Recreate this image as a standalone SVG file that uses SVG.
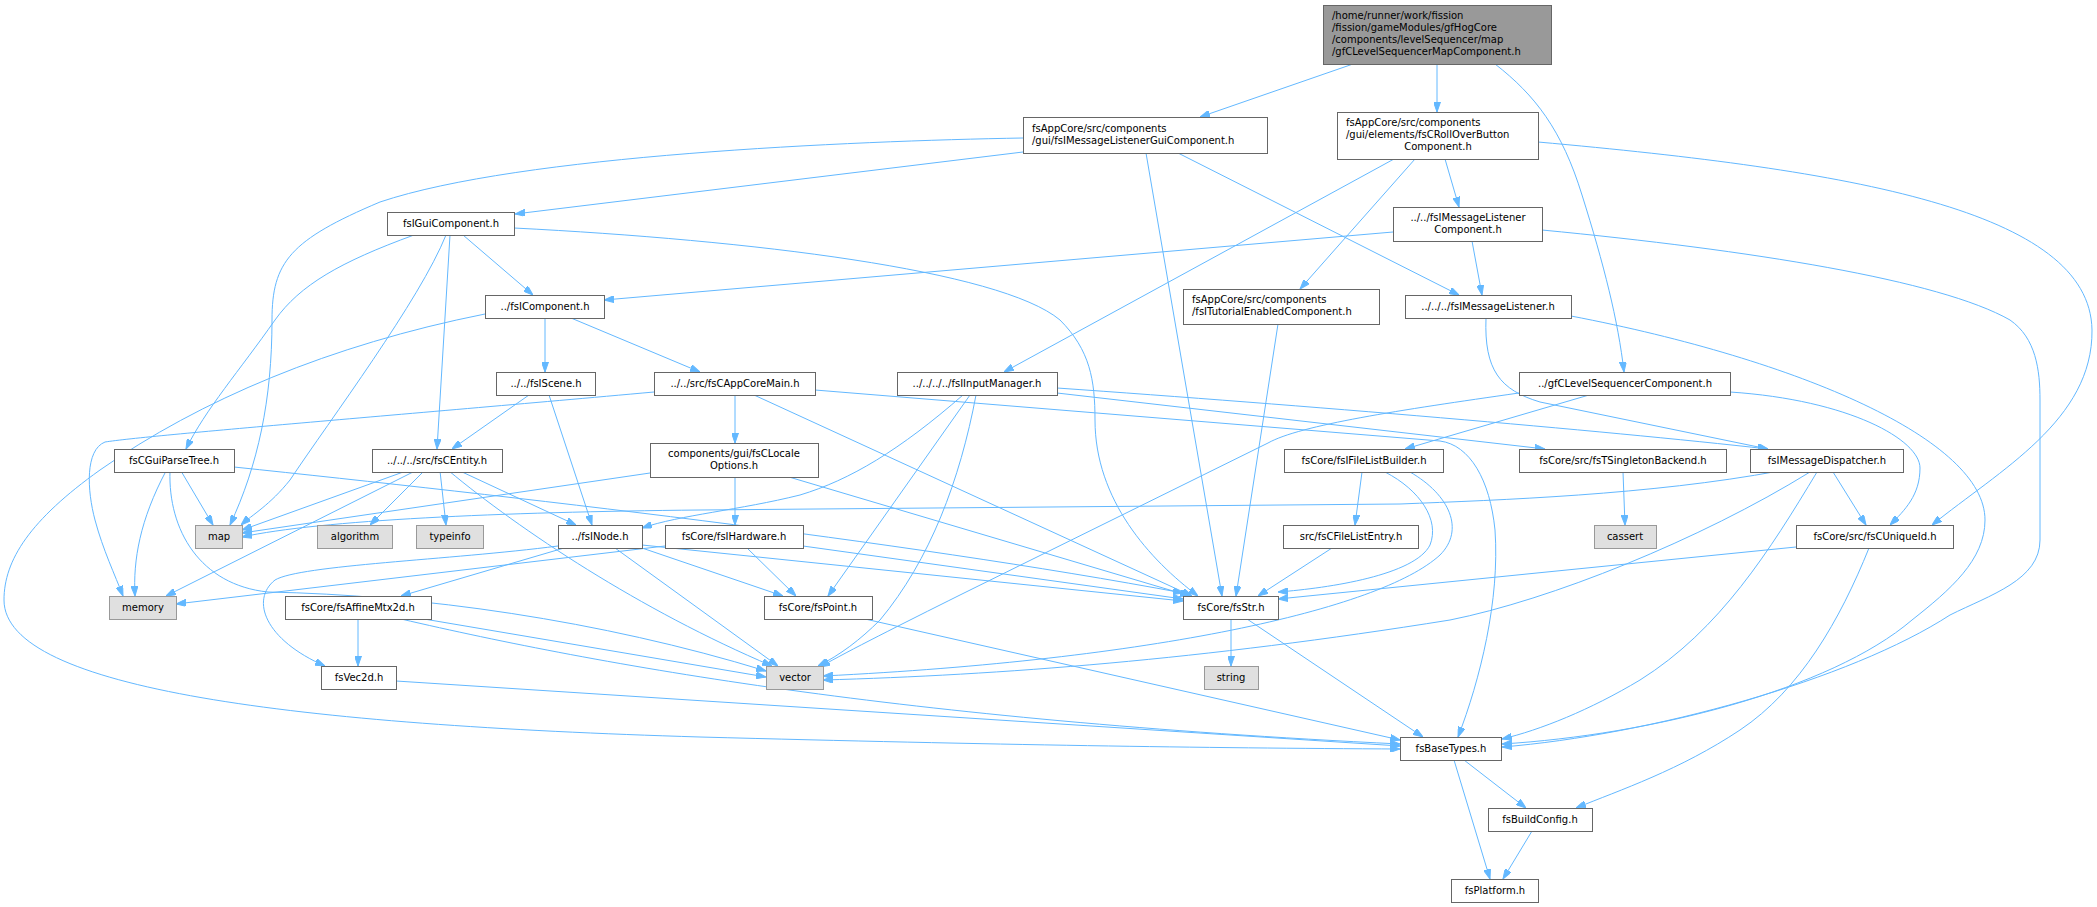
<svg xmlns="http://www.w3.org/2000/svg" width="2097" height="907" viewBox="0 0 2097 907">
<defs>
<style>
.n rect{fill:#ffffff;stroke:#666666;stroke-width:1}
.g rect{fill:#e0e0e0;stroke:#999999;stroke-width:1}
.r rect{fill:#999999;stroke:#666666;stroke-width:1}
text{font-family:"DejaVu Sans","Liberation Sans",sans-serif;font-size:10px;fill:#000000}
.c{text-anchor:middle}
#edges path{fill:none;stroke:#63b8ff;stroke-width:1;marker-end:url(#a)}
</style>
<marker id="a" viewBox="0 0 10 7" refX="10" refY="3.5" markerWidth="10" markerHeight="7" markerUnits="userSpaceOnUse" orient="auto">
<path d="M0,0 L10,3.5 L0,7 z" fill="#63b8ff" stroke="#63b8ff" stroke-width="1"/>
</marker>
</defs>
<rect width="2097" height="907" fill="#ffffff"/>
<g id="edges">
<path d="M1353,64 L1200,117"/>
<path d="M1437,64 L1437,112"/>
<path d="M1495,64 C1535,95 1562,130 1582,195 C1604,265 1618,320 1624,372"/>
<path d="M1023,152 L515,214"/>
<path d="M1023,138 C850,141 520,155 380,202 C290,240 272,262 272,320 C272,400 258,465 230,525"/>
<path d="M1146,153 L1222,596"/>
<path d="M1178,153 L1459,295"/>
<path d="M1394,159 L1004,372"/>
<path d="M1415,159 L1300,289"/>
<path d="M1445,159 L1459,207"/>
<path d="M1538,142 C1850,170 2090,210 2092,330 C2093,420 2000,470 1932,525"/>
<path d="M1393,232 L604,300"/>
<path d="M1472,241 L1482,295"/>
<path d="M1542,230 C1750,250 1940,280 2010,320 C2036,338 2040,370 2040,400 L2040,540 C2040,580 1990,595 1950,615 C1850,680 1650,735 1502,747"/>
<path d="M1571,316 C1800,360 1985,440 1985,520 C1985,560 1950,590 1912,620 C1830,690 1650,735 1502,744"/>
<path d="M463,235 L533,295"/>
<path d="M414,235 C340,262 300,285 275,320 C240,370 205,410 186,449"/>
<path d="M446,235 C420,300 330,420 290,480 C270,505 252,515 241,525"/>
<path d="M450,235 L437,449"/>
<path d="M514,228 C750,240 1000,270 1060,320 C1090,350 1095,380 1095,420 C1095,500 1150,560 1198,596"/>
<path d="M1278,324 L1236,596"/>
<path d="M1486,318 C1484,370 1500,390 1540,402 L1768,449"/>
<path d="M1589,395 L1405,449"/>
<path d="M1730,392 C1850,400 1920,440 1920,468 C1920,495 1905,510 1890,525"/>
<path d="M1519,393 C1400,410 1300,425 1268,443 L960,595 C900,625 850,650 820,667"/>
<path d="M545,318 L545,372"/>
<path d="M571,318 L700,372"/>
<path d="M485,314 C330,345 200,400 100,470 C30,520 4,560 4,600 C4,690 300,725 700,737 C1000,745 1200,748 1400,749"/>
<path d="M529,395 L452,449"/>
<path d="M549,395 L592,525"/>
<path d="M735,395 L735,443"/>
<path d="M754,395 L1192,596"/>
<path d="M654,392 C400,415 150,435 105,442 C85,450 87,490 95,520 C103,550 115,575 123,596"/>
<path d="M815,390 L1440,441 C1470,445 1490,480 1495,530 C1500,600 1480,680 1458,737"/>
<path d="M963,395 C900,450 850,480 800,495 C740,510 680,515 642,528"/>
<path d="M970,395 L828,596"/>
<path d="M976,395 C960,480 930,560 880,620 C860,640 840,655 818,666"/>
<path d="M1057,388 C1300,405 1600,430 1768,449"/>
<path d="M1057,393 L1545,449"/>
<path d="M181,471 L213,525"/>
<path d="M166,471 C140,520 133,560 135,596"/>
<path d="M170,471 C168,530 200,585 268,592 C420,595 600,620 766,671"/>
<path d="M234,467 C500,495 900,540 1183,593"/>
<path d="M406,471 L242,530"/>
<path d="M415,471 L166,596"/>
<path d="M424,471 L370,525"/>
<path d="M440,471 L446,525"/>
<path d="M460,471 L576,525"/>
<path d="M449,471 C520,530 640,610 772,666"/>
<path d="M650,473 L242,533"/>
<path d="M735,477 L735,525"/>
<path d="M789,477 L1190,596"/>
<path d="M665,546 L176,604"/>
<path d="M747,548 L796,596"/>
<path d="M803,546 L1183,599"/>
<path d="M564,548 L401,596"/>
<path d="M558,546 C450,560 300,565 275,580 C250,600 265,640 325,666"/>
<path d="M615,548 L778,666"/>
<path d="M642,548 L783,596"/>
<path d="M642,545 L1183,601"/>
<path d="M358,619 L358,666"/>
<path d="M424,619 L766,677"/>
<path d="M401,619 C600,665 900,720 1400,744"/>
<path d="M396,681 L1400,746"/>
<path d="M865,619 L1400,740"/>
<path d="M1231,619 L1231,666"/>
<path d="M1247,619 L1423,737"/>
<path d="M1362,472 L1355,525"/>
<path d="M1385,472 C1420,490 1440,520 1430,545 C1415,575 1330,588 1278,592"/>
<path d="M1410,472 C1450,495 1465,530 1440,555 C1380,610 1150,660 823,676"/>
<path d="M1332,548 L1258,596"/>
<path d="M1623,472 L1625,525"/>
<path d="M1779,471 C1650,495 1500,500 1400,504 L700,510 C500,512 320,520 242,537"/>
<path d="M1810,472 C1700,540 1550,600 1450,620 C1200,660 1000,675 823,680"/>
<path d="M1817,472 C1770,550 1720,630 1640,680 C1590,710 1540,730 1502,739"/>
<path d="M1833,472 L1866,525"/>
<path d="M1796,547 L1278,599"/>
<path d="M1869,548 C1840,620 1800,690 1740,730 C1680,770 1620,790 1576,808"/>
<path d="M1464,760 L1526,808"/>
<path d="M1454,760 L1490,879"/>
<path d="M1532,831 L1503,879"/>
</g>
<g id="n_root" class="r"><rect x="1323.5" y="5.5" width="228" height="59"/><text x="1332" y="19">/home/runner/work/fission</text><text x="1332" y="31">/fission/gameModules/gfHogCore</text><text x="1332" y="43">/components/levelSequencer/map</text><text x="1332" y="55">/gfCLevelSequencerMapComponent.h</text></g>
<g id="n_mlgui" class="n"><rect x="1023.5" y="117.5" width="244" height="36"/><text x="1032" y="132">fsAppCore/src/components</text><text x="1032" y="144">/gui/fsIMessageListenerGuiComponent.h</text></g>
<g id="n_rollover" class="n"><rect x="1337.5" y="112.5" width="201" height="47"/><text x="1346" y="126">fsAppCore/src/components</text><text x="1346" y="138">/gui/elements/fsCRollOverButton</text><text class="c" x="1438" y="150">Component.h</text></g>
<g id="n_mlcomp" class="n"><rect x="1393.5" y="207.5" width="149" height="34"/><text class="c" x="1468" y="221">../../fsIMessageListener</text><text class="c" x="1468" y="233">Component.h</text></g>
<g id="n_tutorial" class="n"><rect x="1183.5" y="289.5" width="196" height="35"/><text x="1192" y="303">fsAppCore/src/components</text><text x="1192" y="315">/fsITutorialEnabledComponent.h</text></g>
<g id="n_ml" class="n"><rect x="1405.5" y="295.5" width="166" height="23"/><text class="c" x="1488" y="310">../../../fsIMessageListener.h</text></g>
<g id="n_gui" class="n"><rect x="387.5" y="212.5" width="127" height="23"/><text class="c" x="451" y="227">fsIGuiComponent.h</text></g>
<g id="n_comp" class="n"><rect x="485.5" y="295.5" width="119" height="23"/><text class="c" x="545" y="310">../fsIComponent.h</text></g>
<g id="n_scene" class="n"><rect x="496.5" y="372.5" width="99" height="23"/><text class="c" x="546" y="387">../../fsIScene.h</text></g>
<g id="n_appmain" class="n"><rect x="654.5" y="372.5" width="161" height="23"/><text class="c" x="735" y="387">../../src/fsCAppCoreMain.h</text></g>
<g id="n_input" class="n"><rect x="897.5" y="372.5" width="160" height="23"/><text class="c" x="977" y="387">../../../../fsIInputManager.h</text></g>
<g id="n_gfc" class="n"><rect x="1519.5" y="372.5" width="211" height="23"/><text class="c" x="1625" y="387">../gfCLevelSequencerComponent.h</text></g>
<g id="n_parse" class="n"><rect x="114.5" y="449.5" width="120" height="23"/><text class="c" x="174" y="464">fsCGuiParseTree.h</text></g>
<g id="n_entity" class="n"><rect x="372.5" y="449.5" width="130" height="23"/><text class="c" x="437" y="464">../../../src/fsCEntity.h</text></g>
<g id="n_locale" class="n"><rect x="650.5" y="443.5" width="168" height="34"/><text class="c" x="734" y="457">components/gui/fsCLocale</text><text class="c" x="734" y="469">Options.h</text></g>
<g id="n_filelist" class="n"><rect x="1284.5" y="449.5" width="159" height="23"/><text class="c" x="1364" y="464">fsCore/fsIFileListBuilder.h</text></g>
<g id="n_singleton" class="n"><rect x="1519.5" y="449.5" width="207" height="23"/><text class="c" x="1623" y="464">fsCore/src/fsTSingletonBackend.h</text></g>
<g id="n_dispatch" class="n"><rect x="1750.5" y="449.5" width="153" height="23"/><text class="c" x="1827" y="464">fsIMessageDispatcher.h</text></g>
<g id="n_map" class="g"><rect x="195.5" y="525.5" width="47" height="23"/><text class="c" x="219" y="540">map</text></g>
<g id="n_algorithm" class="g"><rect x="317.5" y="525.5" width="75" height="23"/><text class="c" x="355" y="540">algorithm</text></g>
<g id="n_typeinfo" class="g"><rect x="416.5" y="525.5" width="67" height="23"/><text class="c" x="450" y="540">typeinfo</text></g>
<g id="n_node" class="n"><rect x="558.5" y="525.5" width="84" height="23"/><text class="c" x="600" y="540">../fsINode.h</text></g>
<g id="n_hardware" class="n"><rect x="665.5" y="525.5" width="138" height="23"/><text class="c" x="734" y="540">fsCore/fsIHardware.h</text></g>
<g id="n_fileentry" class="n"><rect x="1283.5" y="525.5" width="135" height="23"/><text class="c" x="1351" y="540">src/fsCFileListEntry.h</text></g>
<g id="n_cassert" class="g"><rect x="1594.5" y="525.5" width="62" height="23"/><text class="c" x="1625" y="540">cassert</text></g>
<g id="n_uniqueid" class="n"><rect x="1796.5" y="525.5" width="157" height="23"/><text class="c" x="1875" y="540">fsCore/src/fsCUniqueId.h</text></g>
<g id="n_memory" class="g"><rect x="109.5" y="596.5" width="67" height="23"/><text class="c" x="143" y="611">memory</text></g>
<g id="n_affine" class="n"><rect x="285.5" y="596.5" width="146" height="23"/><text class="c" x="358" y="611">fsCore/fsAffineMtx2d.h</text></g>
<g id="n_point" class="n"><rect x="764.5" y="596.5" width="108" height="23"/><text class="c" x="818" y="611">fsCore/fsPoint.h</text></g>
<g id="n_str" class="n"><rect x="1183.5" y="596.5" width="95" height="23"/><text class="c" x="1231" y="611">fsCore/fsStr.h</text></g>
<g id="n_vec2d" class="n"><rect x="321.5" y="666.5" width="75" height="23"/><text class="c" x="359" y="681">fsVec2d.h</text></g>
<g id="n_vector" class="g"><rect x="766.5" y="666.5" width="57" height="23"/><text class="c" x="795" y="681">vector</text></g>
<g id="n_string" class="g"><rect x="1204.5" y="666.5" width="54" height="23"/><text class="c" x="1231" y="681">string</text></g>
<g id="n_basetypes" class="n"><rect x="1400.5" y="737.5" width="101" height="23"/><text class="c" x="1451" y="752">fsBaseTypes.h</text></g>
<g id="n_buildconfig" class="n"><rect x="1488.5" y="808.5" width="104" height="23"/><text class="c" x="1540" y="823">fsBuildConfig.h</text></g>
<g id="n_platform" class="n"><rect x="1451.5" y="879.5" width="87" height="23"/><text class="c" x="1495" y="894">fsPlatform.h</text></g>
</svg>
